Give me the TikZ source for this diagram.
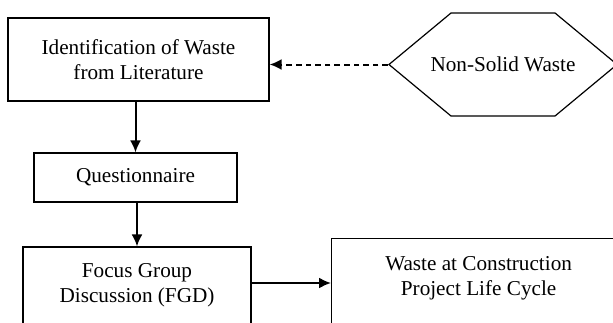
\documentclass[tikz,border=0pt]{standalone}
\usepackage{fontspec}
\setmainfont{Liberation Serif}
\usetikzlibrary{arrows.meta,shapes.symbols}
\tikzset{
  box/.style={draw, line width=0.6pt, inner sep=0pt, align=center},
  hexa/.style={draw, line width=0.6pt, signal, signal to=west and east,
    signal pointer angle=79.4, inner sep=0pt},
  flow/.style={line width=1pt, -{Latex[length=6pt,width=5.5pt]}},
}
\begin{document}
\begin{tikzpicture}[x=0.5pt,y=-0.5pt,font=\fontsize{10.6}{12.5}\selectfont]
\useasboundingbox (0,0) rectangle (613,322);
\clip (0,0) rectangle (613,322);
%%% the steps, top to bottom
\node[box, minimum width=130.5pt, minimum height=41.5pt] (lit) at (138.5,59.5)
{Identification of Waste\\from Literature};
\node[box, minimum width=101.5pt, minimum height=24.5pt] (quest) at (135.5,177.5)
{Questionnaire};
\node[box, minimum width=114pt, minimum height=38.5pt] (fgd) at (137,285.5)
{Focus Group\\Discussion (FGD)};
\node[box, minimum width=147pt, anchor=north west, inner ysep=9pt, text depth=40pt]
(cycle) at (331,238) {Waste at Construction\\Project Life Cycle};
%%% text is wider than the flat top edge
\node[hexa, minimum height=51.5pt] (nonsolid) at (503,64.5)
{\makebox[52pt]{Non-Solid Waste}};
%%% the connectors
\draw[flow, dash pattern=on 2.8pt off 2pt] (nonsolid.west) -- (nonsolid.west -| lit.east);
\draw[flow] (quest.north |- lit.south) -- (quest.north);
\draw[flow] (fgd.north |- quest.south) -- (fgd.north);
\draw[flow] ([yshift=1.25pt]fgd.east) -- ([yshift=1.25pt]fgd.east -| cycle.west);
\end{tikzpicture}
\end{document}
